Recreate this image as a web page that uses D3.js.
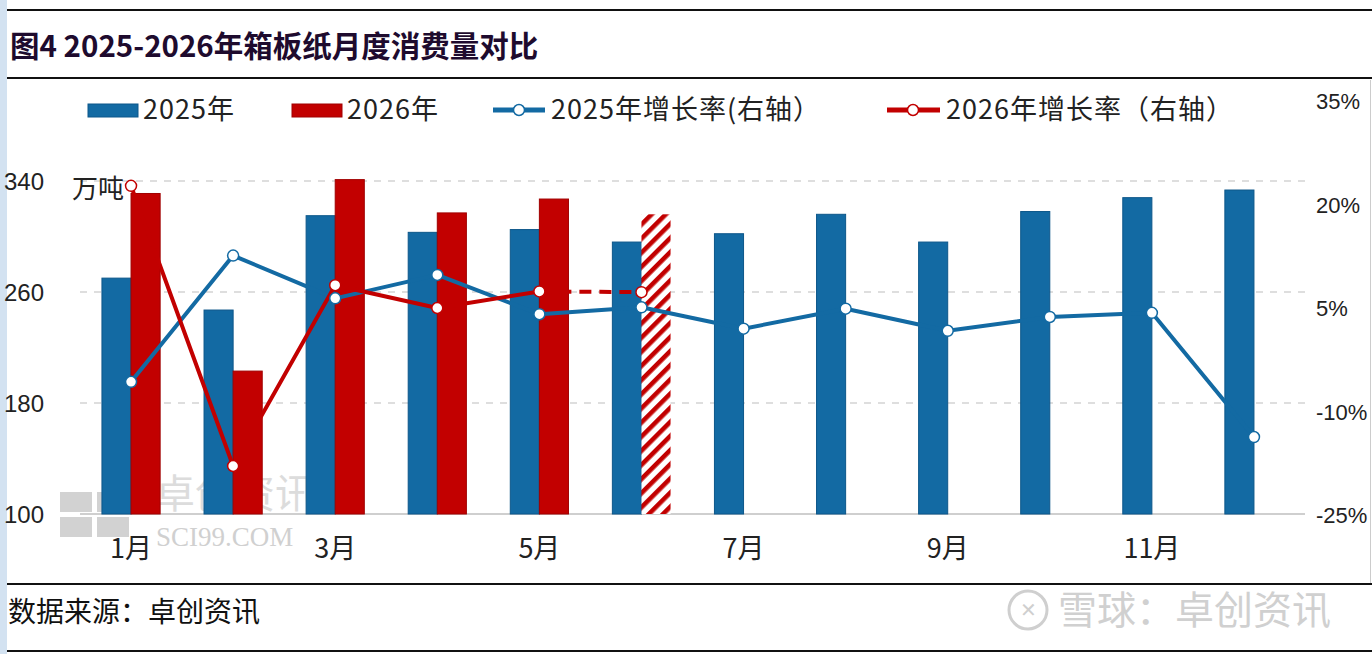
<!DOCTYPE html>
<html><head><meta charset="utf-8">
<script src="https://cdn.jsdelivr.net/npm/d3@7"></script>
<style>
html,body{margin:0;padding:0;background:#fff;}
svg{display:block;}
</style></head>
<body>
<svg id="chart" width="1372" height="654"></svg>
<script>
// ---- data ----
const months = ["1月","2月","3月","4月","5月","6月","7月","8月","9月","10月","11月","12月"];
const shownMonths = ["1月","3月","5月","7月","9月","11月"];
const cons2025 = [270, 247, 315, 303, 305, 296, 302, 316, 296, 318, 328, 333.5];
const cons2026 = [331, 203, 341, 317, 327, 316];      // 6月 is forecast (hatched)
const forecastMonths2026 = ["6月"];
const growth2025 = [-5.7, 12.6, 6.4, 9.8, 4.1, 5.1, 2.0, 4.9, 1.7, 3.7, 4.3, -13.7];
const growth2026 = [22.7, -17.9, 8.3, 5.0, 7.4, 7.3];
const leftTicks = [100, 180, 260, 340];
const rightTicks = [-25, -10, 5, 20, 35];
const titleText = "图4 2025-2026年箱板纸月度消费量对比";
const legendLabels = ["2025年", "2026年", "2025年增长率(右轴）", "2026年增长率（右轴）"];

const BLUE = "#136aa3", RED = "#c20000";
const svg = d3.select("#chart");
const CJK = "'Noto Sans CJK SC','Noto Sans',sans-serif";

// scales
const x = d3.scaleBand().domain(months).range([80, 1305]);
const yL = d3.scaleLinear().domain([100, 340]).range([514, 181]);
const yR = d3.scaleLinear().domain([-25, 35]).range([515, 101]);
const bw = x.bandwidth() * 0.285;
const cx = m => x(m) + x.bandwidth() / 2;

// defs: hatch pattern
const defs = svg.append("defs");
const pat = defs.append("pattern").attr("id","hatch").attr("patternUnits","userSpaceOnUse")
  .attr("width",10).attr("height",10).attr("patternTransform","rotate(45)");
pat.append("rect").attr("width",10).attr("height",10).attr("fill","#fff");
pat.append("rect").attr("x",0).attr("width",4.6).attr("height",10).attr("fill",RED);

// frame lines
svg.append("rect").attr("x",0).attr("y",0).attr("width",7).attr("height",654).attr("fill","#d3e2f1");
svg.append("line").attr("x1",7).attr("x2",1372).attr("y1",10).attr("y2",10).attr("stroke","#111").attr("stroke-width",2);
svg.append("line").attr("x1",7).attr("x2",1372).attr("y1",78).attr("y2",78).attr("stroke","#111").attr("stroke-width",2);
svg.append("line").attr("x1",7).attr("x2",1372).attr("y1",584).attr("y2",584).attr("stroke","#111").attr("stroke-width",2);
svg.append("line").attr("x1",7).attr("x2",1372).attr("y1",651).attr("y2",651).attr("stroke","#111").attr("stroke-width",2);
svg.append("line").attr("x1",1370.5).attr("x2",1370.5).attr("y1",80).attr("y2",583).attr("stroke","#ccc").attr("stroke-width",1);

// title
svg.append("text").attr("x",10).attr("y",57).text(titleText)
  .attr("font-family",CJK).attr("font-weight","bold")
  .attr("font-size",29.5).attr("fill","#1e0b2e");

// watermark (behind bars)
const wm = svg.append("g").attr("fill","#d2d2d2");
wm.append("rect").attr("x",60).attr("y",492).attr("width",32).attr("height",20);
wm.append("rect").attr("x",97).attr("y",492).attr("width",32).attr("height",20);
wm.append("rect").attr("x",60).attr("y",517).attr("width",32).attr("height",20);
wm.append("rect").attr("x",97).attr("y",517).attr("width",32).attr("height",20);
wm.append("text").attr("x",155).attr("y",508).text("卓创资讯").attr("font-family",CJK).attr("font-size",40).attr("fill","#dcdcdc");
wm.append("text").attr("x",156).attr("y",546).text("SCI99.COM").attr("font-family","'Liberation Serif',serif").attr("font-size",27).attr("fill","#d0d0d0");

// gridlines
svg.append("g").selectAll("line").data(leftTicks.filter(d => d !== 100)).join("line")
  .attr("x1",80).attr("x2",1305).attr("y1",d=>yL(d)).attr("y2",d=>yL(d))
  .attr("stroke","#bdbdbd").attr("stroke-width",1.2).attr("stroke-dasharray","7,7");
svg.append("line").attr("x1",80).attr("x2",1305).attr("y1",yL(100)).attr("y2",yL(100))
  .attr("stroke","#bfbfbf").attr("stroke-width",1.5);

// axes labels
const leftAxis = d3.axisLeft(yL).tickValues(leftTicks).tickSize(0).tickPadding(0);
const gL = svg.append("g").attr("transform","translate(44,0)").call(leftAxis);
gL.select(".domain").remove();
gL.selectAll("text").attr("font-family","'Liberation Sans',sans-serif").attr("font-size",24).attr("fill","#222").attr("dy","0.35em");

const rightAxis = d3.axisRight(yR).tickValues(rightTicks).tickSize(0).tickPadding(0).tickFormat(d => d + "%");
const gR = svg.append("g").attr("transform","translate(1316,0)").call(rightAxis);
gR.select(".domain").remove();
gR.selectAll("text").attr("font-family","'Liberation Sans',sans-serif").attr("font-size",22).attr("fill","#222").attr("dy","0.35em");

const bottomAxis = d3.axisBottom(x).tickValues(shownMonths).tickSize(0).tickPadding(0);
const gB = svg.append("g").attr("transform","translate(0,549)").call(bottomAxis);
gB.select(".domain").remove();
gB.selectAll("text").attr("font-family",CJK).attr("font-size",27).attr("fill","#222").attr("dy","0.35em");

// unit label
svg.append("text").attr("x",72).attr("y",198).text("万吨").attr("font-family",CJK).attr("font-size",26).attr("fill","#222");

// bars 2025
svg.append("g").selectAll("rect").data(cons2025).join("rect")
  .attr("x",(d,i)=>cx(months[i]) - bw).attr("width",bw)
  .attr("y",d=>yL(d)).attr("height",d=>yL(100)-yL(d))
  .attr("fill",BLUE).attr("stroke","#0d578a").attr("stroke-width",1);

// bars 2026
svg.append("g").selectAll("rect").data(cons2026).join("rect")
  .attr("x",(d,i)=>cx(months[i])).attr("width",bw)
  .attr("y",d=>yL(d)).attr("height",d=>yL(100)-yL(d))
  .attr("fill",(d,i)=>forecastMonths2026.includes(months[i]) ? "url(#hatch)" : RED)
  .attr("stroke",(d,i)=>forecastMonths2026.includes(months[i]) ? "none" : "#a00000").attr("stroke-width",1);

// lines
const line = d3.line().x(d=>cx(d.m)).y(d=>yR(d.v));
const pts25 = growth2025.map((v,i)=>({m:months[i], v}));
const pts26 = growth2026.map((v,i)=>({m:months[i], v}));
svg.append("path").datum(pts25).attr("d",line).attr("fill","none").attr("stroke",BLUE).attr("stroke-width",4).attr("stroke-linejoin","round");
const nActual = cons2026.length - forecastMonths2026.length;
svg.append("path").datum(pts26.slice(0,nActual)).attr("d",line).attr("fill","none").attr("stroke",RED).attr("stroke-width",4).attr("stroke-linejoin","round");
svg.append("path").datum(pts26.slice(nActual-1)).attr("d",line).attr("fill","none").attr("stroke",RED).attr("stroke-width",4).attr("stroke-dasharray","12,8");

svg.append("g").selectAll("circle").data(pts25).join("circle")
  .attr("cx",d=>cx(d.m)).attr("cy",d=>yR(d.v)).attr("r",5.5)
  .attr("fill","#fff").attr("stroke",BLUE).attr("stroke-width",1.5);
svg.append("g").selectAll("circle").data(pts26).join("circle")
  .attr("cx",d=>cx(d.m)).attr("cy",d=>yR(d.v)).attr("r",5.5)
  .attr("fill","#fff").attr("stroke",RED).attr("stroke-width",1.5);

// legend
const lg = svg.append("g").attr("font-family",CJK).attr("font-size",27).attr("letter-spacing",1).attr("fill","#222");
lg.append("rect").attr("x",88).attr("y",104).attr("width",50).attr("height",13).attr("fill",BLUE).attr("stroke","#0d578a");
lg.append("text").attr("x",143).attr("y",110).attr("dy","0.35em").text(legendLabels[0]);
lg.append("rect").attr("x",292).attr("y",104).attr("width",50).attr("height",13).attr("fill",RED).attr("stroke","#a00000");
lg.append("text").attr("x",347).attr("y",110).attr("dy","0.35em").text(legendLabels[1]);
lg.append("line").attr("x1",493).attr("x2",545).attr("y1",110).attr("y2",110).attr("stroke",BLUE).attr("stroke-width",5);
lg.append("circle").attr("cx",519).attr("cy",110).attr("r",5.5).attr("fill","#fff").attr("stroke",BLUE).attr("stroke-width",1.5);
lg.append("text").attr("x",551).attr("y",110).attr("dy","0.35em").text(legendLabels[2]);
lg.append("line").attr("x1",887).attr("x2",940).attr("y1",110).attr("y2",110).attr("stroke",RED).attr("stroke-width",5);
lg.append("circle").attr("cx",913).attr("cy",110).attr("r",5.5).attr("fill","#fff").attr("stroke",RED).attr("stroke-width",1.5);
lg.append("text").attr("x",946).attr("y",110).attr("dy","0.35em").text(legendLabels[3]);

// footer
svg.append("text").attr("x",8).attr("y",612).attr("dy","0.35em").text("数据来源：卓创资讯")
  .attr("font-family",CJK).attr("font-size",28).attr("fill","#111");
const xq = svg.append("g");
xq.append("circle").attr("cx",1028).attr("cy",610).attr("r",19).attr("fill","none").attr("stroke","#cfcfcf").attr("stroke-width",3);
xq.append("text").attr("x",1028).attr("y",610).attr("dy","0.35em").attr("text-anchor","middle").text("✕").attr("font-size",20).attr("fill","#cfcfcf");
xq.append("text").attr("x",1058).attr("y",610).attr("dy","0.36em").text("雪球：卓创资讯")
  .attr("font-family",CJK).attr("font-size",39).attr("fill","#d0d0d0");
</script>
</body></html>
